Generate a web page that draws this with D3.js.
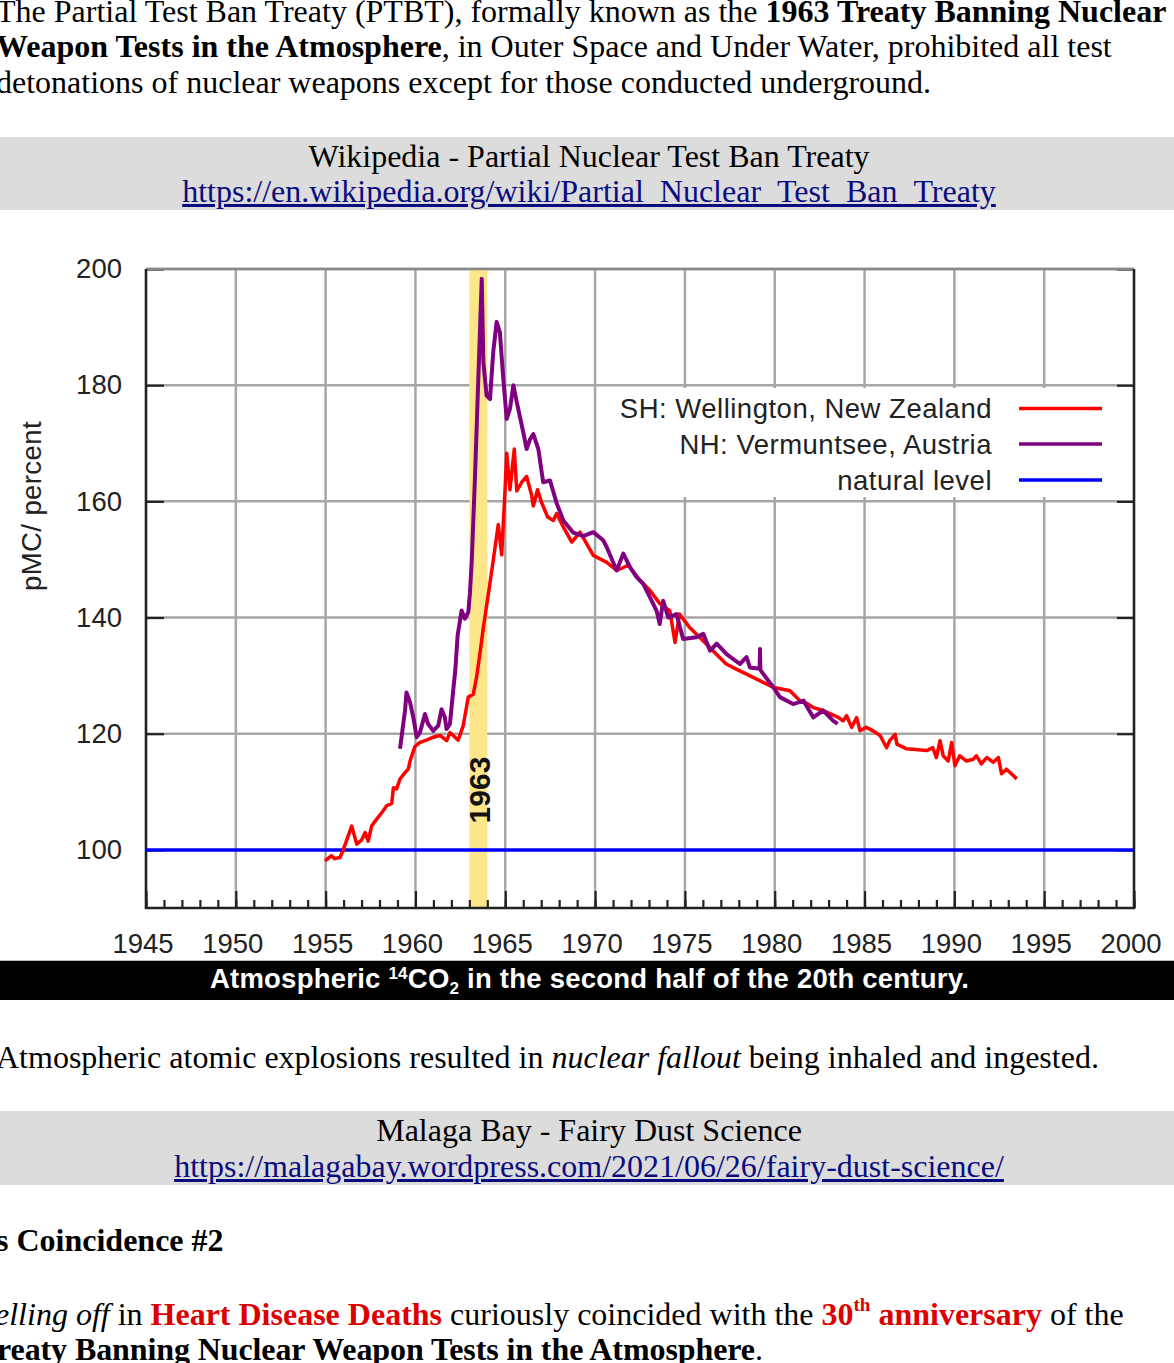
<!DOCTYPE html>
<html>
<head>
<meta charset="utf-8">
<script src="https://cdn.jsdelivr.net/npm/d3@7"></script>
<style>
  html, body { margin:0; padding:0; background:#fff; }
  body { width:1174px; height:1363px; overflow:hidden; position:relative;
         font-family:"Liberation Serif","Times New Roman",serif; font-size:32px; line-height:35.5px; color:#000; }
  .abs { position:absolute; white-space:nowrap; }
  .box { position:absolute; left:-4px; width:1186px; background:#dcdcdc; text-align:center; }
  a { color:#0b0b80; text-decoration:underline; }
  .red { color:#dd0000; font-weight:bold; }
  sup { font-size:19px; line-height:0; vertical-align:baseline; position:relative; top:-14px; }
  svg { position:absolute; left:0; top:0; }
</style>
</head>
<body>
<svg id="chart" width="1174" height="1363"></svg>

<div class="abs" style="left:-4px; top:-6.5px;">
The Partial Test Ban Treaty (PTBT), formally known as the <b>1963 Treaty Banning Nuclear</b><br>
<b>Weapon Tests in the Atmosphere</b>, in Outer Space and Under Water, prohibited all test<br>
detonations of nuclear weapons except for those conducted underground.
</div>

<div class="box" style="top:137px; height:73px;">
<div style="margin-top:1.5px;">Wikipedia - Partial Nuclear Test Ban Treaty</div>
<div><a href="#">https://en.wikipedia.org/wiki/Partial_Nuclear_Test_Ban_Treaty</a></div>
</div>

<div class="abs" style="left:-4px; top:1039.5px;">Atmospheric atomic explosions resulted in <i>nuclear fallout</i> being inhaled and ingested.</div>

<div class="box" style="top:1111px; height:74px;">
<div style="margin-top:2px;">Malaga Bay - Fairy Dust Science</div>
<div><a href="#">https://malagabay.wordpress.com/2021/06/26/fairy-dust-science/</a></div>
</div>

<div class="abs" style="left:-4px; top:1223px;"><b>s Coincidence #2</b></div>

<div class="abs" style="left:-5px; top:1296.5px;">
<i>elling off</i> in <span class="red">Heart Disease Deaths</span> curiously coincided with the <span class="red">30<sup>th</sup> anniversary</span> of the</div>
<div class="abs" style="left:-3px; top:1332px; letter-spacing:-0.1px;"><b>reaty Banning Nuclear Weapon Tests in the Atmosphere</b>.</div>

<script>
// ---------------- data ----------------
const xTickYears = [1945,1950,1955,1960,1965,1970,1975,1980,1985,1990,1995,2000];
const yTickValues = [100,120,140,160,180,200];
const naturalLevel = 100;
const treatyBand = [1963, 1964];
const treatyLabel = "1963";
const legendLabels = ["SH: Wellington, New Zealand", "NH: Vermuntsee, Austria", "natural level"];
const seriesColors = ["#ff0000", "#800080", "#0000ff"];

// SH: Wellington, New Zealand  [year, pMC]
const shSeries = [
 [1954.96,98.1],[1955.33,99.0],[1955.5,98.5],[1955.8,98.7],[1955.98,100.0],[1956.45,104.1],[1956.73,101.0],
 [1957.0,101.7],[1957.2,103.0],[1957.37,101.5],[1957.56,104.1],[1957.84,105.3],[1958.12,106.4],[1958.4,107.6],
 [1958.68,108.0],[1958.77,110.7],[1958.95,110.5],[1959.14,112.2],[1959.42,113.3],[1959.6,113.9],[1959.7,115.3],
 [1959.97,117.8],[1960.25,118.5],[1960.62,118.9],[1960.99,119.4],[1961.37,119.7],[1961.74,118.8],[1961.92,120.2],
 [1962.1,119.7],[1962.38,118.9],[1962.66,121.4],[1962.94,126.3],[1963.22,126.8],[1963.4,129.7],[1963.59,133.8],
 [1963.78,138.3],[1964.06,144.1],[1964.33,149.8],[1964.61,156.0],[1964.8,150.8],[1964.98,161.5],[1965.08,168.3],
 [1965.26,162.0],[1965.5,169.0],[1965.64,161.8],[1965.92,163.3],[1966.19,164.3],[1966.47,161.0],[1966.56,159.2],
 [1966.8,162.0],[1967.02,159.8],[1967.36,157.3],[1967.67,156.7],[1967.86,157.9],[1968.23,155.6],[1968.7,153.0],
 [1969.16,154.7],[1969.9,150.7],[1970.65,149.5],[1971.2,148.1],[1971.85,149.0],[1972.5,146.4],[1973.05,144.7],
 [1973.6,142.4],[1974.16,141.2],[1974.45,135.7],[1974.7,140.6],[1975.26,138.3],[1975.82,136.6],[1976.56,134.3],
 [1977.3,132.0],[1978.0,130.9],[1978.8,129.7],[1979.9,128.0],[1980.85,127.4],[1981.4,125.7],[1981.8,125.2],
 [1982.15,124.5],[1982.7,124.0],[1983.54,122.8],[1983.8,122.2],[1984.0,123.1],[1984.28,121.1],[1984.56,122.8],
 [1984.75,120.5],[1985.1,121.1],[1985.48,120.5],[1985.86,119.7],[1986.23,117.6],[1986.4,118.8],[1986.7,119.9],
 [1986.8,118.2],[1987.34,117.4],[1988.46,117.1],[1988.8,117.6],[1989.0,115.9],[1989.2,118.8],[1989.38,116.2],
 [1989.66,115.3],[1989.85,118.5],[1990.03,114.5],[1990.3,116.2],[1990.68,115.3],[1991.05,115.6],[1991.23,116.2],
 [1991.5,114.8],[1991.8,115.9],[1992.17,115.1],[1992.45,115.9],[1992.63,113.1],[1992.9,113.9],[1993.28,112.8],
 [1993.47,112.2]
];

// NH: Vermuntsee, Austria  [year, pMC]
const nhSeries = [
 [1959.14,117.4],[1959.42,124.0],[1959.5,127.1],[1959.7,125.4],[1959.88,122.8],[1960.07,119.4],[1960.25,120.2],
 [1960.53,123.4],[1960.7,121.7],[1960.99,120.5],[1961.27,121.4],[1961.45,124.2],[1961.64,122.8],[1961.73,120.8],
 [1961.92,121.7],[1962.1,127.4],[1962.22,131.0],[1962.35,137.0],[1962.57,141.2],[1962.75,139.8],[1962.94,140.9],
 [1963.03,144.1],[1963.13,149.5],[1963.31,163.8],[1963.5,181.1],[1963.69,198.3],[1963.78,184.0],[1963.96,178.2],
 [1964.15,177.6],[1964.33,185.7],[1964.52,190.9],[1964.7,189.1],[1964.89,181.1],[1965.08,174.2],[1965.26,175.9],
 [1965.45,180.0],[1965.64,177.1],[1966.0,171.9],[1966.19,169.0],[1966.38,170.7],[1966.56,171.6],[1966.84,169.0],
 [1967.11,163.3],[1967.49,163.6],[1967.86,159.7],[1968.23,156.7],[1968.79,154.6],[1969.34,154.0],[1969.9,154.7],
 [1970.45,153.3],[1970.65,152.1],[1971.2,148.1],[1971.57,151.0],[1971.94,148.7],[1972.3,147.0],[1972.68,145.8],
 [1973.05,143.5],[1973.42,141.2],[1973.6,138.9],[1973.79,142.9],[1974.07,140.0],[1974.53,140.6],[1974.9,136.3],
 [1975.65,136.6],[1976.02,137.2],[1976.4,134.3],[1976.77,135.5],[1977.32,133.7],[1978.06,132.0],[1978.43,133.2],
 [1978.62,131.4],[1979.16,131.2],[1979.18,134.6],[1979.2,131.0],[1979.36,130.3],[1979.92,128.0],[1980.29,126.3],
 [1981.03,125.1],[1981.6,125.7],[1982.15,122.8],[1982.7,124.0],[1983.26,122.2],[1983.5,121.7]
];

// ---------------- drawing ----------------
const svg = d3.select("#chart");
const L = 146, R = 1134, T = 269, B = 908;
const x = d3.scaleLinear().domain([1945, 2000]).range([L, R]);
const y = d3.scaleLinear().domain([90, 200]).range([B, T]);
const sans = '"Liberation Sans", Arial, sans-serif';
const txt = "#222";

// caption bar
svg.append("rect").attr("x", 0).attr("y", 961).attr("width", 1174).attr("height", 39).attr("fill", "#000");
svg.append("line").attr("x1", 0).attr("x2", 1174).attr("y1", 960.5).attr("y2", 960.5).attr("stroke", "#bbb").attr("stroke-width", 1);
const cap = svg.append("text").attr("x", 589.5).attr("y", 988).attr("text-anchor", "middle")
  .attr("fill", "#fff").attr("font-family", sans).attr("font-weight", "bold").attr("font-size", 27.5)
  .attr("letter-spacing", 0.23);
cap.append("tspan").text("Atmospheric ");
cap.append("tspan").attr("font-size", 17).attr("dy", -9).text("14");
cap.append("tspan").attr("dy", 9).text("CO");
cap.append("tspan").attr("font-size", 17).attr("dy", 6).text("2");
cap.append("tspan").attr("dy", -6).text(" in the second half of the 20th century.");

// gridlines
const grid = svg.append("g").attr("stroke", "#a6a6a6").attr("stroke-width", 2.5);
grid.selectAll("line.v").data(xTickYears.slice(1, -1)).join("line")
  .attr("x1", d => x(d)).attr("x2", d => x(d)).attr("y1", T).attr("y2", B);
grid.selectAll("line.h").data(yTickValues.slice(1)).join("line")
  .attr("x1", L).attr("x2", R).attr("y1", d => y(d)).attr("y2", d => y(d));

// legend box (hides gridlines behind it)
svg.append("rect").attr("x", 599).attr("y", 388).attr("width", R - 600).attr("height", 109).attr("fill", "#fff");

// treaty band
svg.append("rect").attr("x", x(treatyBand[0])).attr("width", x(treatyBand[1]) - x(treatyBand[0]))
  .attr("y", T).attr("height", B - T).attr("fill", "#fde68a");
svg.append("text").attr("transform", `translate(${x(1963.55) + 11},790) rotate(-90)`)
  .attr("text-anchor", "middle").attr("font-family", sans).attr("font-weight", "bold")
  .attr("font-size", 30).attr("fill", "#111").text(treatyLabel);

// axes
const minorYears = d3.range(1945, 2001);
const gMinor = svg.append("g").attr("transform", `translate(0,${B})`)
  .call(d3.axisBottom(x).tickValues(minorYears).tickSize(-8).tickFormat(""));
const gX = svg.append("g").attr("transform", `translate(0,${B})`)
  .call(d3.axisBottom(x).tickValues(xTickYears).tickSize(-17).tickPadding(25).tickFormat(d3.format("d")));
const gY = svg.append("g").attr("transform", `translate(${L},0)`)
  .call(d3.axisLeft(y).tickValues(yTickValues).tickSize(-18).tickPadding(24));
const gYR = svg.append("g").attr("transform", `translate(${R},0)`)
  .call(d3.axisRight(y).tickValues(yTickValues).tickSize(-17).tickFormat(""));
[gMinor, gX, gY, gYR].forEach(g => {
  g.select(".domain").remove();
  g.selectAll(".tick line").attr("stroke", "#222").attr("stroke-width", 2.2);
  g.selectAll(".tick text").attr("font-family", sans).attr("font-size", 27.5).attr("fill", txt);
});
gX.selectAll(".tick text").attr("dx", -3.5);

// frame
svg.append("line").attr("x1", L).attr("x2", R).attr("y1", T).attr("y2", T).attr("stroke", "#888").attr("stroke-width", 2.5);
svg.append("path").attr("d", `M${L},${T}V${B}H${R}V${T}`).attr("fill", "none").attr("stroke", "#222").attr("stroke-width", 2.6);

// y label
svg.append("text").attr("transform", "translate(41,506) rotate(-90)").attr("text-anchor", "middle")
  .attr("font-family", sans).attr("font-size", 27.5).attr("letter-spacing", 0.4).attr("fill", txt).text("pMC/ percent");

// series
const line = d3.line().x(d => x(d[0])).y(d => y(d[1]));
svg.append("line").attr("x1", L).attr("x2", R).attr("y1", y(naturalLevel)).attr("y2", y(naturalLevel))
  .attr("stroke", seriesColors[2]).attr("stroke-width", 3.5);
svg.append("path").datum(shSeries).attr("d", line).attr("fill", "none")
  .attr("stroke", seriesColors[0]).attr("stroke-width", 3.5).attr("stroke-linejoin", "round");
svg.append("path").datum(nhSeries).attr("d", line).attr("fill", "none")
  .attr("stroke", seriesColors[1]).attr("stroke-width", 4).attr("stroke-linejoin", "round");

// legend
const legY = [408.5, 444, 480];
const leg = svg.append("g");
legendLabels.forEach((lab, i) => {
  leg.append("text").attr("x", 992).attr("y", legY[i] + 9.5).attr("text-anchor", "end")
    .attr("font-family", sans).attr("font-size", 27.5).attr("letter-spacing", 0.5).attr("fill", txt).text(lab);
  leg.append("line").attr("x1", 1019).attr("x2", 1102).attr("y1", legY[i]).attr("y2", legY[i])
    .attr("stroke", seriesColors[i]).attr("stroke-width", 3.5);
});
</script>
</body>
</html>
